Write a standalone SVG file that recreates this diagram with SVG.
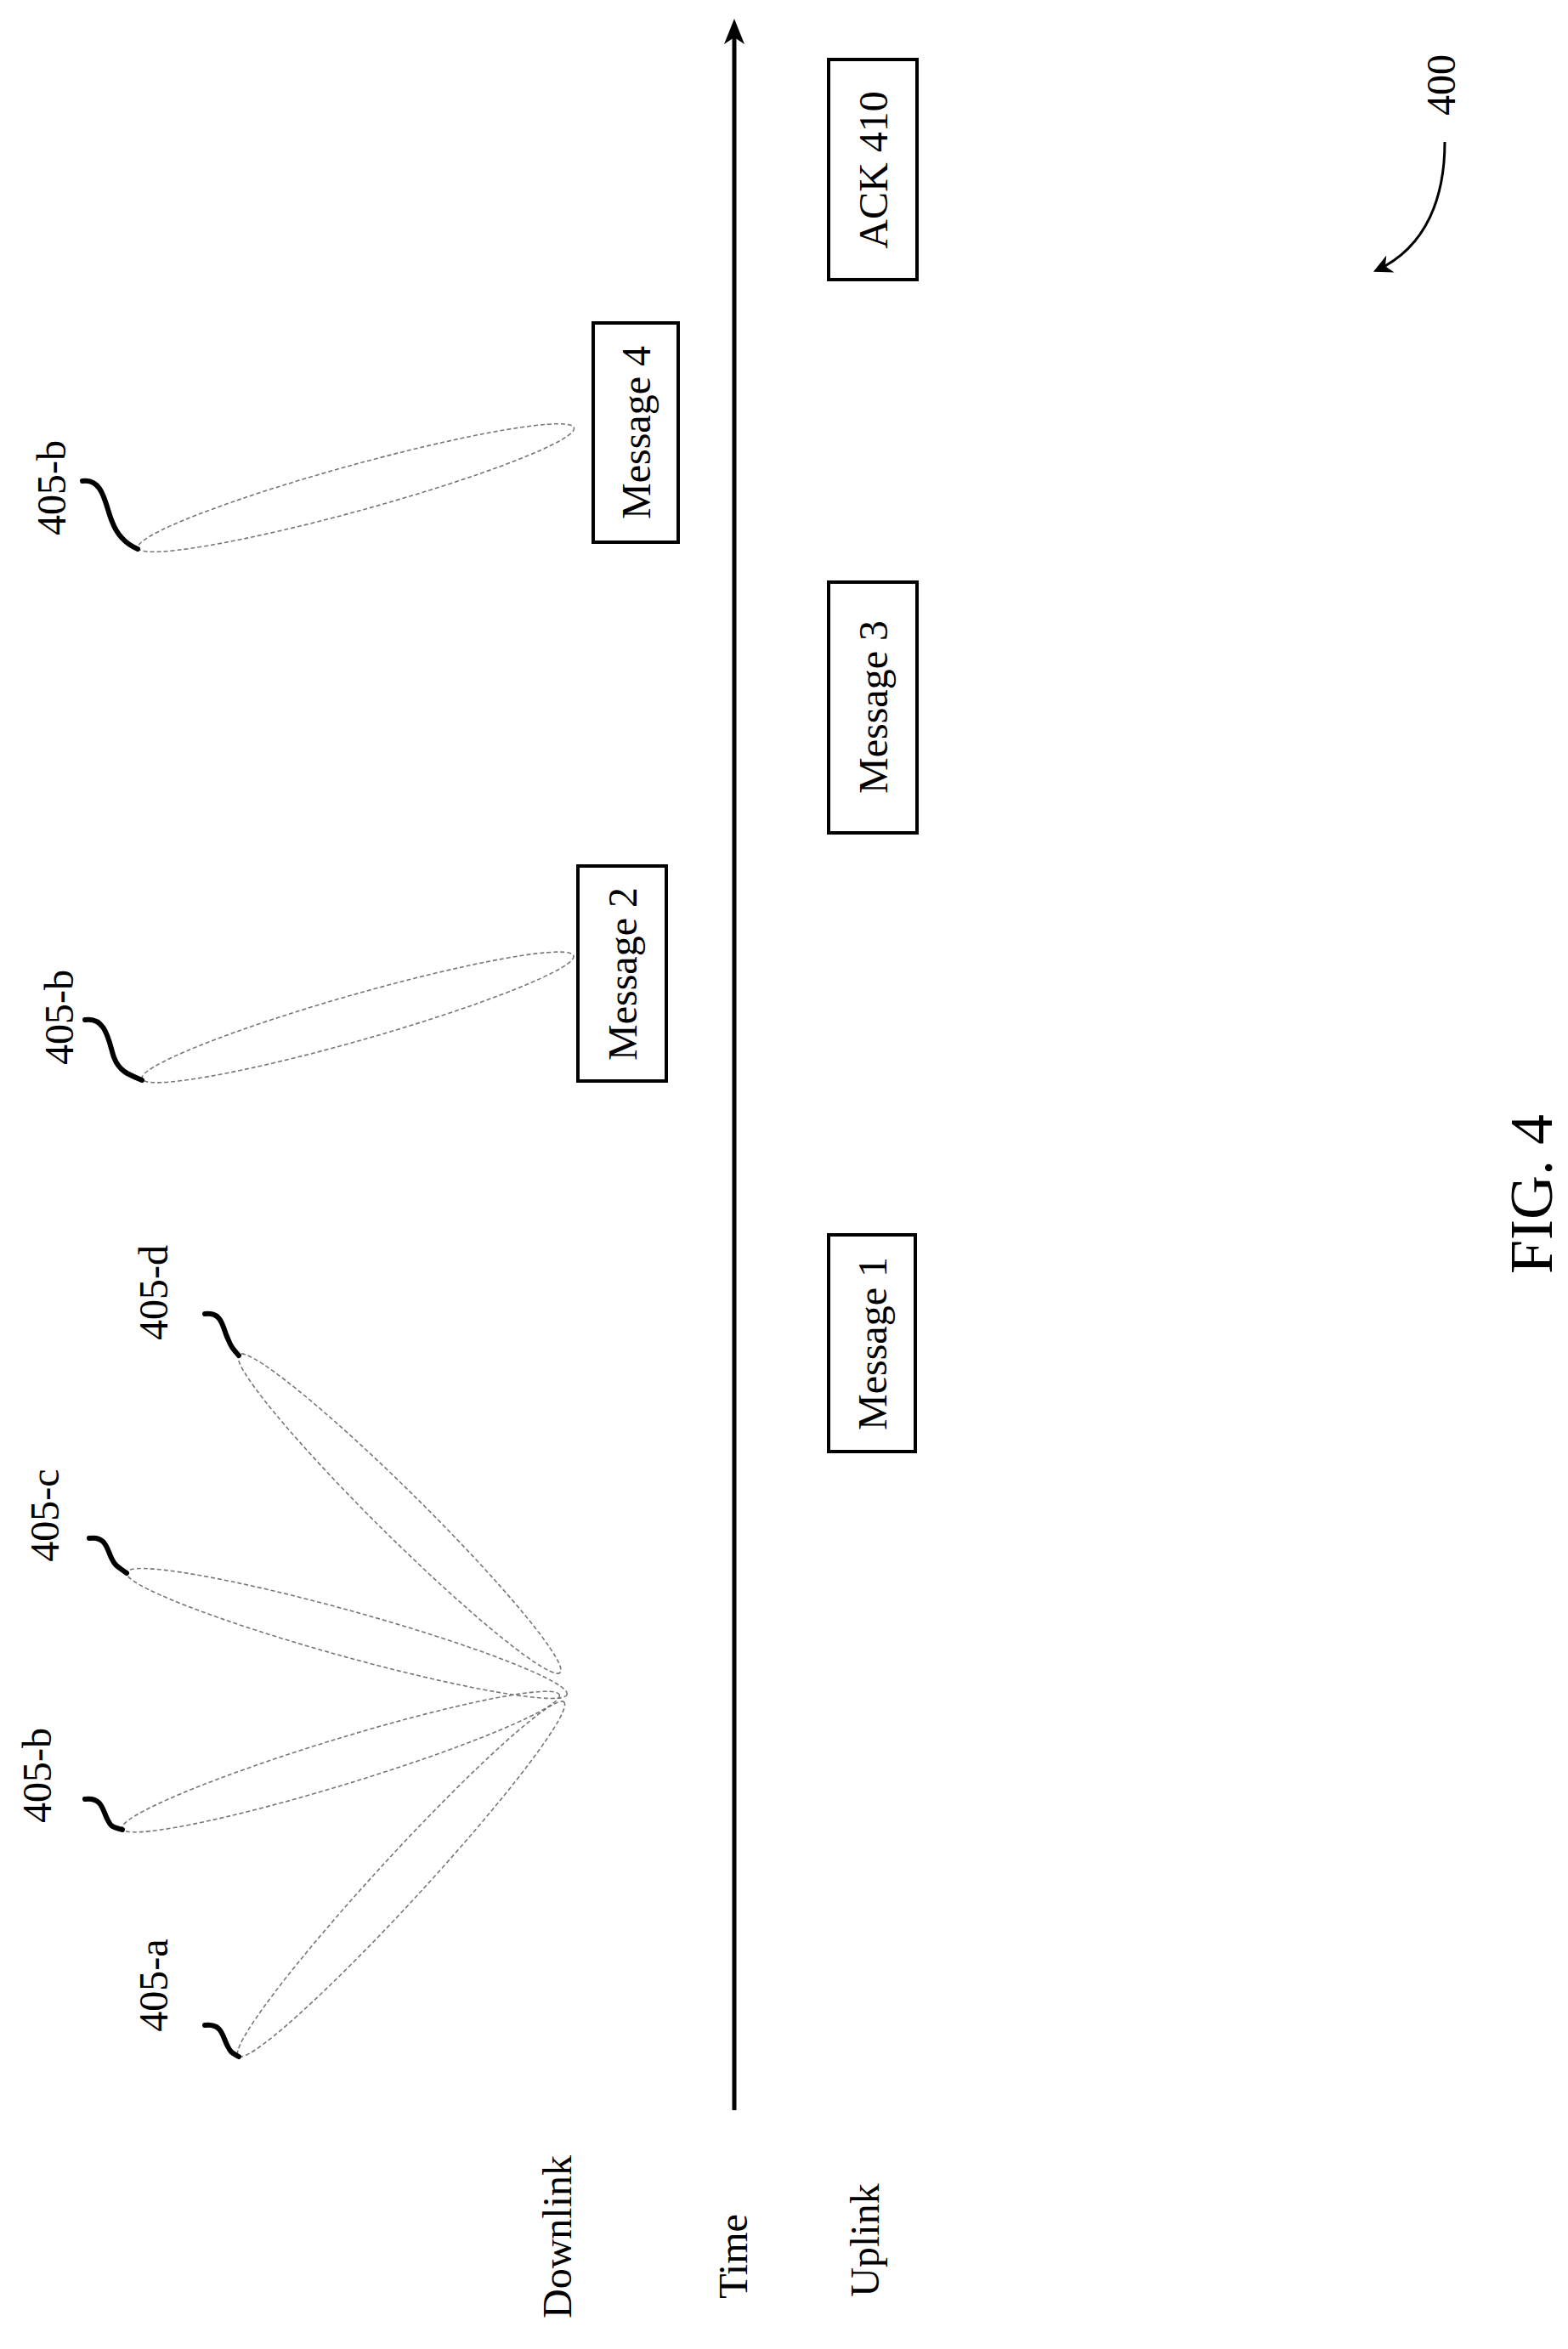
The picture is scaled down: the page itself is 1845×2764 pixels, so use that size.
<svg xmlns="http://www.w3.org/2000/svg" width="1845" height="2764" viewBox="0 0 1845 2764">
<style>
text{font-family:"Liberation Serif","Times New Roman",serif;fill:#000}
.lbl{font-size:48px}
.box{fill:#fff;stroke:#000;stroke-width:4}
.beam{fill:none;stroke:#777;stroke-width:1.6;stroke-dasharray:5 3}
.sq{fill:none;stroke:#000;stroke-width:6;stroke-linecap:round}
</style>
<defs>
<marker id="ah2" viewBox="0 0 10 10" refX="8" refY="5" markerWidth="22" markerHeight="22" orient="auto" markerUnits="userSpaceOnUse"><path d="M0,0 L10,5 L0,10 L3,5 Z" fill="#000"/></marker>
</defs>
<g id="connectors">
<line x1="864" y1="2483" x2="864" y2="30" stroke="#000" stroke-width="5"/>
<path d="M864,22 L852,52 L864,44 L876,52 Z" fill="#000"/>
<path d="M1700,167 C1700,230 1680,290 1620,318" fill="none" stroke="#000" stroke-width="3" marker-end="url(#ah2)"/>
</g>
<g id="beams">
<ellipse class="beam" cx="472" cy="2211" rx="283" ry="27" transform="rotate(-47.4 472 2211)"/>
<ellipse class="beam" cx="401" cy="2073" rx="269" ry="27" transform="rotate(-17 401 2073)"/>
<ellipse class="beam" cx="408" cy="1922" rx="269" ry="27" transform="rotate(15.5 408 1922)"/>
<ellipse class="beam" cx="470" cy="1781" rx="266" ry="27" transform="rotate(44.7 470 1781)"/>
<ellipse class="beam" cx="421" cy="1197" rx="264" ry="27" transform="rotate(-15.9 421 1197)"/>
<ellipse class="beam" cx="419" cy="574" rx="266" ry="27" transform="rotate(-15.4 419 574)"/>
</g>
<g id="leaders">
<path class="sq" d="M241,2383 C262,2380 262,2398 268,2408 C272,2416 274,2416 281,2420"/>
<path class="sq" d="M100,2117 C121,2114 121,2132 127,2142 C131,2150 133,2150 144,2153"/>
<path class="sq" d="M105,1810 C126,1807 126,1825 132,1835 C136,1843 138,1843 149,1851"/>
<path class="sq" d="M241,1546 C262,1543 262,1563 268,1575 C272,1585 274,1587 281,1595"/>
<path class="sq" d="M100,1200 C125,1196 128,1226 134,1244 C140,1260 150,1264 167,1271"/>
<path class="sq" d="M97,566 C122,562 124,596 132,614 C138,630 148,640 162,646"/>
</g>
<g id="labels">
<text class="lbl" transform="translate(197 2336) rotate(-90)" text-anchor="middle">405-a</text>
<text class="lbl" transform="translate(60 2089) rotate(-90)" text-anchor="middle">405-b</text>
<text class="lbl" transform="translate(69 1783) rotate(-90)" text-anchor="middle">405-c</text>
<text class="lbl" transform="translate(197 1521) rotate(-90)" text-anchor="middle">405-d</text>
<text class="lbl" transform="translate(86 1197) rotate(-90)" text-anchor="middle">405-b</text>
<text class="lbl" transform="translate(77 574) rotate(-90)" text-anchor="middle">405-b</text>
<text class="lbl" transform="translate(1712 100) rotate(-90)" text-anchor="middle">400</text>
</g>
<g id="ack410"><rect class="box" x="975" y="70" width="104" height="259"/><text class="lbl" transform="translate(1044 200) rotate(-90)" text-anchor="middle">ACK 410</text></g>
<g id="msg4"><rect class="box" x="698" y="380" width="100" height="258"/><text class="lbl" transform="translate(765 509) rotate(-90)" text-anchor="middle">Message 4</text></g>
<g id="msg3"><rect class="box" x="975" y="685" width="104" height="295"/><text class="lbl" transform="translate(1044 832) rotate(-90)" text-anchor="middle">Message 3</text></g>
<g id="msg2"><rect class="box" x="680" y="1019" width="104" height="253"/><text class="lbl" transform="translate(749 1146) rotate(-90)" text-anchor="middle">Message 2</text></g>
<g id="msg1"><rect class="box" x="975" y="1453" width="102" height="255"/><text class="lbl" transform="translate(1043 1581) rotate(-90)" text-anchor="middle">Message 1</text></g>
<g id="axislabels">
<text class="lbl" transform="translate(672 2632) rotate(-90)" text-anchor="middle">Downlink</text>
<text class="lbl" transform="translate(879 2655) rotate(-90)" text-anchor="middle">Time</text>
<text class="lbl" transform="translate(1034 2636) rotate(-90)" text-anchor="middle">Uplink</text>
<text transform="translate(1826 1405) rotate(-90)" text-anchor="middle" font-size="72">FIG. 4</text>
</g>
</svg>
